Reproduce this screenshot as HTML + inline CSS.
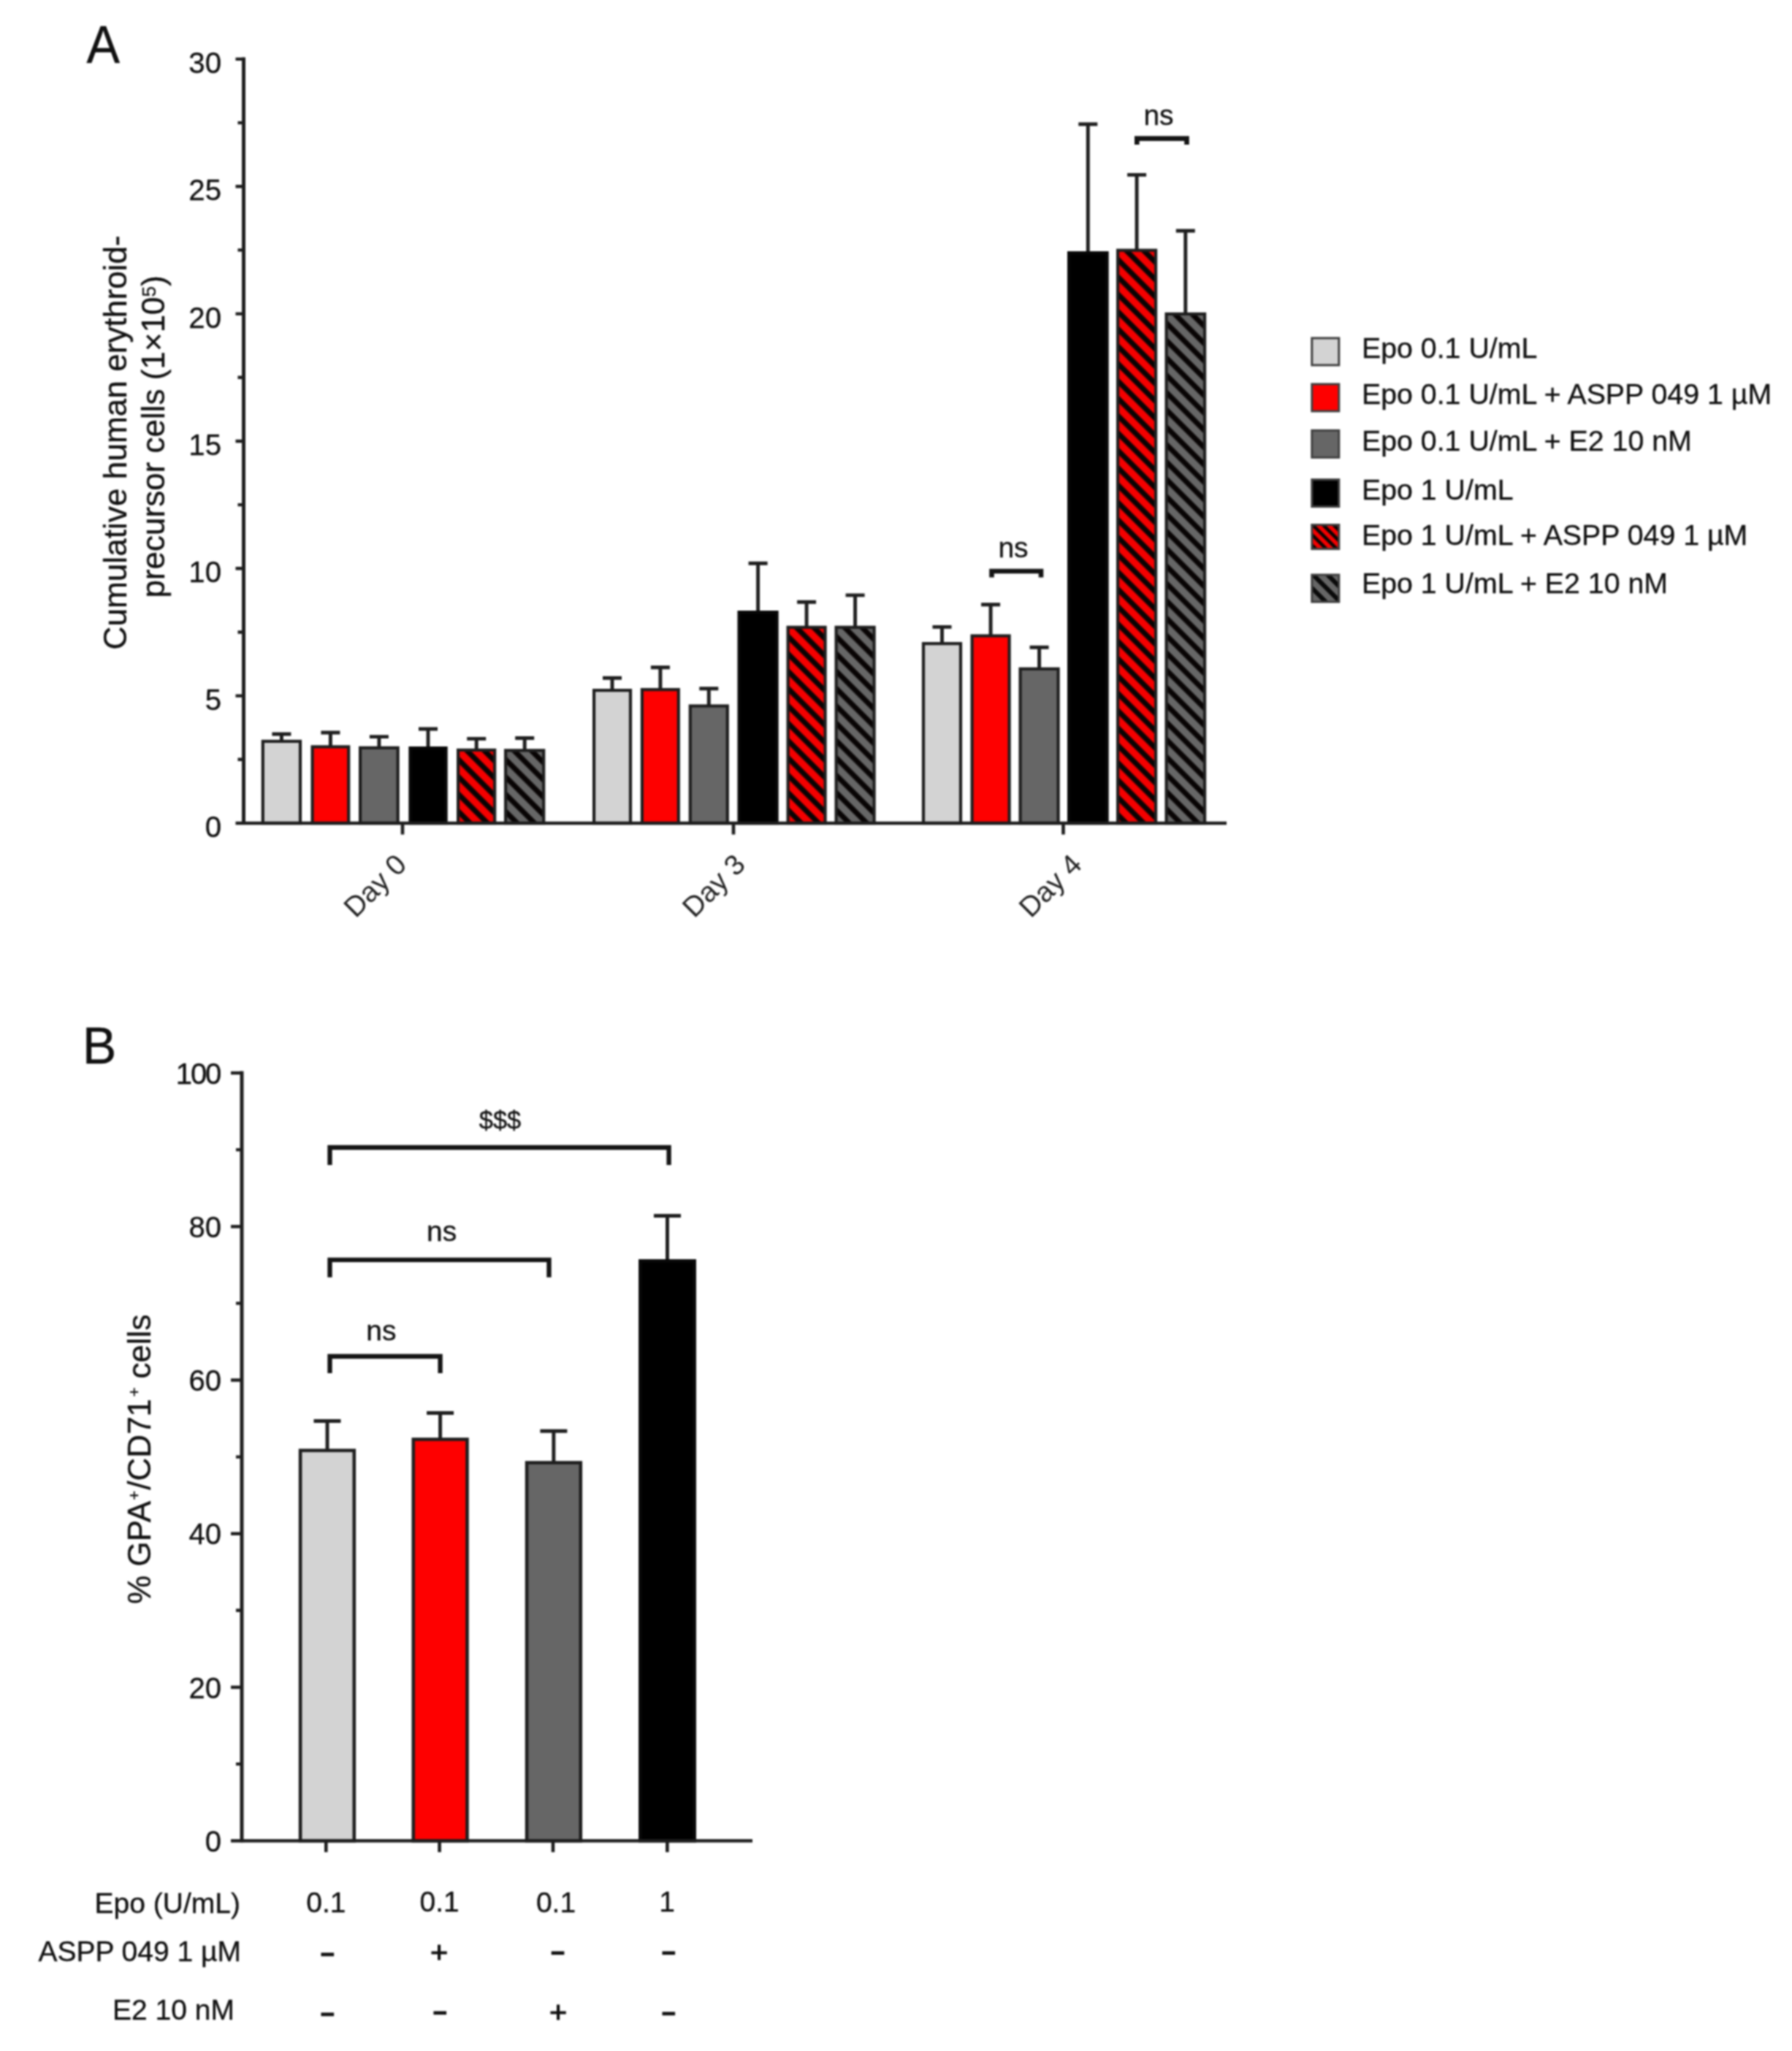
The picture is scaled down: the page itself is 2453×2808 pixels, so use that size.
<!DOCTYPE html>
<html lang="en"><head><meta charset="utf-8"><title>Figure</title>
<style>
html,body{margin:0;padding:0;background:#fff}
body{width:2453px;height:2808px;overflow:hidden}
svg{display:block;filter:blur(1px)}
text{font-family:"Liberation Sans", Arial, sans-serif;fill:#101010;stroke:#101010;stroke-width:0.35px}
</style></head><body>
<svg width="2453" height="2808" viewBox="0 0 2453 2808">
<defs>
<pattern id="hr" patternUnits="userSpaceOnUse" width="16.8" height="16.8" patternTransform="rotate(45)">
<rect width="16.8" height="16.8" fill="#f40000"/><rect x="0" y="0" width="16.8" height="7.4" fill="#0a0000"/>
</pattern>
<pattern id="hg" patternUnits="userSpaceOnUse" width="16.8" height="16.8" patternTransform="rotate(45)">
<rect width="16.8" height="16.8" fill="#666"/><rect x="0" y="0" width="16.8" height="7.4" fill="#0a0a0a"/>
</pattern>
</defs>
<rect width="2453" height="2808" fill="#fff"/>

<g id="panelA">
<path d="M385.4 1014.8V1005.0M372.4 1005.0H398.4" stroke="#1e1e1e" stroke-width="4.9" fill="none"/>
<rect x="359.8" y="1014.9" width="51.2" height="112.1" fill="#d3d3d3" stroke="#1e1e1e" stroke-width="4.2"/>
<path d="M452.4 1022.3V1003.0M439.4 1003.0H465.4" stroke="#1e1e1e" stroke-width="4.9" fill="none"/>
<rect x="427.6" y="1022.4" width="49.6" height="104.6" fill="#fe0000" stroke="#1e1e1e" stroke-width="4.2"/>
<path d="M518.9 1023.7V1008.6M505.9 1008.6H531.9" stroke="#1e1e1e" stroke-width="4.9" fill="none"/>
<rect x="493.1" y="1023.8" width="51.5" height="103.2" fill="#666666" stroke="#1e1e1e" stroke-width="4.2"/>
<path d="M586.0 1024.0V998.0M573.0 998.0H599.0" stroke="#1e1e1e" stroke-width="4.9" fill="none"/>
<rect x="561.5" y="1024.1" width="49.1" height="102.9" fill="#000000" stroke="#080808" stroke-width="4.2"/>
<pattern id="p4" patternUnits="userSpaceOnUse" width="16.8" height="16.8" patternTransform="translate(625.0,1024.8) rotate(45)"><rect width="16.8" height="16.8" fill="#f40000"/><rect y="5.2" width="16.8" height="7.2" fill="#080404"/></pattern>
<path d="M652.2 1026.8V1011.4M639.2 1011.4H665.2" stroke="#1e1e1e" stroke-width="4.9" fill="none"/>
<rect x="627.1" y="1026.9" width="50.1" height="100.1" fill="url(#p4)" stroke="#1e1e1e" stroke-width="4.2"/>
<pattern id="p5" patternUnits="userSpaceOnUse" width="16.8" height="16.8" patternTransform="translate(690.0,1025.3) rotate(45)"><rect width="16.8" height="16.8" fill="#666"/><rect y="5.2" width="16.8" height="7.2" fill="#080404"/></pattern>
<path d="M718.2 1027.3V1010.5M705.2 1010.5H731.2" stroke="#1e1e1e" stroke-width="4.9" fill="none"/>
<rect x="692.1" y="1027.4" width="52.1" height="99.6" fill="url(#p5)" stroke="#1e1e1e" stroke-width="4.2"/>
<path d="M838.0 945.0V928.2M825.0 928.2H851.0" stroke="#1e1e1e" stroke-width="4.9" fill="none"/>
<rect x="813.1" y="945.1" width="49.9" height="181.9" fill="#d3d3d3" stroke="#1e1e1e" stroke-width="4.2"/>
<path d="M903.9 944.0V913.7M890.9 913.7H916.9" stroke="#1e1e1e" stroke-width="4.9" fill="none"/>
<rect x="878.9" y="944.1" width="49.9" height="182.9" fill="#fe0000" stroke="#1e1e1e" stroke-width="4.2"/>
<path d="M970.3 966.4V942.7M957.3 942.7H983.3" stroke="#1e1e1e" stroke-width="4.9" fill="none"/>
<rect x="944.8" y="966.5" width="51.0" height="160.5" fill="#666666" stroke="#1e1e1e" stroke-width="4.2"/>
<path d="M1037.6 838.0V771.2M1024.6 771.2H1050.6" stroke="#1e1e1e" stroke-width="4.9" fill="none"/>
<rect x="1011.6" y="838.1" width="52.0" height="288.9" fill="#000000" stroke="#080808" stroke-width="4.2"/>
<pattern id="p10" patternUnits="userSpaceOnUse" width="16.8" height="16.8" patternTransform="translate(1076.5,856.7) rotate(45)"><rect width="16.8" height="16.8" fill="#f40000"/><rect y="5.2" width="16.8" height="7.2" fill="#080404"/></pattern>
<path d="M1104.1 858.7V824.2M1091.1 824.2H1117.1" stroke="#1e1e1e" stroke-width="4.9" fill="none"/>
<rect x="1078.6" y="858.8" width="51.0" height="268.2" fill="url(#p10)" stroke="#1e1e1e" stroke-width="4.2"/>
<pattern id="p11" patternUnits="userSpaceOnUse" width="16.8" height="16.8" patternTransform="translate(1142.5,856.7) rotate(45)"><rect width="16.8" height="16.8" fill="#666"/><rect y="5.2" width="16.8" height="7.2" fill="#080404"/></pattern>
<path d="M1170.6 858.7V814.9M1157.6 814.9H1183.6" stroke="#1e1e1e" stroke-width="4.9" fill="none"/>
<rect x="1144.6" y="858.8" width="52.0" height="268.2" fill="url(#p11)" stroke="#1e1e1e" stroke-width="4.2"/>
<path d="M1289.5 881.0V858.4M1276.5 858.4H1302.5" stroke="#1e1e1e" stroke-width="4.9" fill="none"/>
<rect x="1264.0" y="881.1" width="51.0" height="245.9" fill="#d3d3d3" stroke="#1e1e1e" stroke-width="4.2"/>
<path d="M1356.1 870.4V827.7M1343.1 827.7H1369.1" stroke="#1e1e1e" stroke-width="4.9" fill="none"/>
<rect x="1330.6" y="870.5" width="51.0" height="256.5" fill="#fe0000" stroke="#1e1e1e" stroke-width="4.2"/>
<path d="M1422.6 915.6V886.3M1409.6 886.3H1435.6" stroke="#1e1e1e" stroke-width="4.9" fill="none"/>
<rect x="1396.6" y="915.7" width="52.0" height="211.3" fill="#666666" stroke="#1e1e1e" stroke-width="4.2"/>
<path d="M1489.3 346.0V170.0M1476.3 170.0H1502.3" stroke="#1e1e1e" stroke-width="4.9" fill="none"/>
<rect x="1463.1" y="346.1" width="52.5" height="780.9" fill="#000000" stroke="#080808" stroke-width="4.2"/>
<pattern id="p16" patternUnits="userSpaceOnUse" width="16.8" height="16.8" patternTransform="translate(1528.0,340.6) rotate(45)"><rect width="16.8" height="16.8" fill="#f40000"/><rect y="5.2" width="16.8" height="7.2" fill="#080404"/></pattern>
<path d="M1556.1 342.6V239.4M1543.1 239.4H1569.1" stroke="#1e1e1e" stroke-width="4.9" fill="none"/>
<rect x="1530.1" y="342.7" width="52.0" height="784.3" fill="url(#p16)" stroke="#1e1e1e" stroke-width="4.2"/>
<pattern id="p17" patternUnits="userSpaceOnUse" width="16.8" height="16.8" patternTransform="translate(1594.5,427.7) rotate(45)"><rect width="16.8" height="16.8" fill="#666"/><rect y="5.2" width="16.8" height="7.2" fill="#080404"/></pattern>
<path d="M1622.8 429.7V316.0M1609.8 316.0H1635.8" stroke="#1e1e1e" stroke-width="4.9" fill="none"/>
<rect x="1596.6" y="429.8" width="52.5" height="697.2" fill="url(#p17)" stroke="#1e1e1e" stroke-width="4.2"/>
<path d="M333.5 78.4V1129.0" stroke="#1e1e1e" stroke-width="5" fill="none"/>
<path d="M322.5 1127.0H1679" stroke="#1e1e1e" stroke-width="4.4" fill="none"/>
<path d="M325.5 1039.8H333.5M322.5 952.6H333.5M325.5 865.5H333.5M322.5 778.3H333.5M325.5 691.1H333.5M322.5 604.0H333.5M325.5 516.8H333.5M322.5 429.6H333.5M325.5 342.4H333.5M322.5 255.3H333.5M325.5 168.1H333.5M322.5 80.9H333.5" stroke="#1e1e1e" stroke-width="4.4" fill="none"/>
<path d="M551 1127.0V1142.5M1004 1127.0V1142.5M1455.5 1127.0V1142.5" stroke="#1e1e1e" stroke-width="4.6" fill="none"/>
<text x="303" y="1146.0" font-size="40.2" text-anchor="end">0</text>
<text x="303" y="971.6" font-size="40.2" text-anchor="end">5</text>
<text x="303" y="797.3" font-size="40.2" text-anchor="end">10</text>
<text x="303" y="623.0" font-size="40.2" text-anchor="end">15</text>
<text x="303" y="448.6" font-size="40.2" text-anchor="end">20</text>
<text x="303" y="274.3" font-size="40.2" text-anchor="end">25</text>
<text x="303" y="99.9" font-size="40.2" text-anchor="end">30</text>
<text transform="translate(558.7,1186.0) rotate(-45)" font-size="39" text-anchor="end" style="fill:#222;stroke:none">Day 0</text>
<text transform="translate(1022.3,1186.0) rotate(-45)" font-size="39" text-anchor="end" style="fill:#222;stroke:none">Day 3</text>
<text transform="translate(1483,1186.0) rotate(-45)" font-size="39" text-anchor="end" style="fill:#222;stroke:none">Day 4</text>
<text transform="translate(173.4,889.5) rotate(-90)" font-size="44.2">Cumulative human erythroid-</text>
<text transform="translate(225.2,818.5) rotate(-90)" font-size="44">precursor cells (1×10<tspan font-size="26.4" dy="-12.6">5</tspan><tspan dy="12.6">)</tspan></text>
<path d="M1357.5 790.4V782H1425V790.4" stroke="#141414" stroke-width="6.6" fill="none" stroke-linejoin="miter"/>
<text x="1387" y="763" font-size="39" text-anchor="middle">ns</text>
<path d="M1556.3 198.0V189.6H1624.5V198.0" stroke="#141414" stroke-width="6.6" fill="none" stroke-linejoin="miter"/>
<text x="1586" y="170.5" font-size="39" text-anchor="middle">ns</text>
<text transform="translate(118.6,86.3) scale(0.955,1)" font-size="71.5">A</text>
<pattern id="lr" patternUnits="userSpaceOnUse" width="10.1" height="10.1" patternTransform="translate(1794,717) rotate(45) translate(0,-3.15)"><rect width="10.1" height="10.1" fill="#f40000"/><rect y="-0.4" width="10.1" height="5.0" fill="#0c0303"/></pattern>
<pattern id="lg" patternUnits="userSpaceOnUse" width="14" height="14" patternTransform="translate(1794,785.3) rotate(45) translate(0,-4.35)"><rect width="14" height="14" fill="#666"/><rect y="-0.5" width="14" height="6.6" fill="#0a0a0a"/></pattern>
<rect x="1795.8" y="462.9" width="37" height="37" fill="#d3d3d3" stroke="#404040" stroke-width="3"/>
<text x="1864" y="490.3" font-size="39.3">Epo 0.1 U/mL</text>
<rect x="1795.8" y="525.9" width="37" height="37" fill="#fe0000" stroke="#404040" stroke-width="3"/>
<text x="1864" y="553.3" font-size="39.3">Epo 0.1 U/mL + ASPP 049 1 µM</text>
<rect x="1795.8" y="589.3" width="37" height="37" fill="#666666" stroke="#404040" stroke-width="3"/>
<text x="1864" y="616.7" font-size="39.3">Epo 0.1 U/mL + E2 10 nM</text>
<rect x="1795.8" y="656.6" width="37" height="37" fill="#000000" stroke="#404040" stroke-width="3"/>
<text x="1864" y="683.6" font-size="39.3">Epo 1 U/mL</text>
<rect x="1795.8" y="718.5" width="37" height="33" fill="url(#lr)" stroke="#404040" stroke-width="3"/>
<text x="1864" y="745.5" font-size="39.3">Epo 1 U/mL + ASPP 049 1 µM</text>
<rect x="1795.8" y="787.0" width="37" height="37" fill="url(#lg)" stroke="#404040" stroke-width="3"/>
<text x="1864" y="812.0" font-size="39.3">Epo 1 U/mL + E2 10 nM</text>
</g>
<g id="panelB">
<path d="M448.0 1985.5V1945.5M429.5 1945.5H466.5" stroke="#1e1e1e" stroke-width="4.9" fill="none"/>
<rect x="411.1" y="1985.8" width="73.7" height="534.4" fill="#d3d3d3" stroke="#1e1e1e" stroke-width="4.6"/>
<path d="M602.6 1970.3V1934.5M584.1 1934.5H621.1" stroke="#1e1e1e" stroke-width="4.9" fill="none"/>
<rect x="565.8" y="1970.6" width="73.7" height="549.6" fill="#fe0000" stroke="#1e1e1e" stroke-width="4.6"/>
<path d="M757.9 2002.2V1959.2M739.4 1959.2H776.4" stroke="#1e1e1e" stroke-width="4.9" fill="none"/>
<rect x="721.1" y="2002.5" width="73.7" height="517.7" fill="#666666" stroke="#1e1e1e" stroke-width="4.6"/>
<path d="M913.5 1726.0V1664.5M895.0 1664.5H932.0" stroke="#1e1e1e" stroke-width="4.9" fill="none"/>
<rect x="876.4" y="1726.3" width="74.3" height="793.9" fill="#000000" stroke="#080808" stroke-width="4.6"/>
<path d="M331.0 1466.5V2522.2" stroke="#1e1e1e" stroke-width="5" fill="none"/>
<path d="M316.0 2520.2H1030" stroke="#1e1e1e" stroke-width="4.4" fill="none"/>
<path d="M323.0 2415.1H331.0M316.0 2310.0H331.0M323.0 2204.8H331.0M316.0 2099.7H331.0M323.0 1994.6H331.0M316.0 1889.5H331.0M323.0 1784.4H331.0M316.0 1679.2H331.0M323.0 1574.1H331.0M316.0 1469.0H331.0" stroke="#1e1e1e" stroke-width="4.4" fill="none"/>
<path d="M446.3 2520.2V2535.7M601.6 2520.2V2535.7M757 2520.2V2535.7M913.4 2520.2V2535.7" stroke="#1e1e1e" stroke-width="4.6" fill="none"/>
<text x="303" y="2534.9" font-size="40" text-anchor="end">0</text>
<text x="303" y="2324.7" font-size="40" text-anchor="end">20</text>
<text x="303" y="2114.4" font-size="40" text-anchor="end">40</text>
<text x="303" y="1904.2" font-size="40" text-anchor="end">60</text>
<text x="303" y="1693.9" font-size="40" text-anchor="end">80</text>
<text x="301" y="1483.7" font-size="40" text-anchor="end" letter-spacing="-2.2">100</text>
<text transform="translate(205.5,2196) rotate(-90)" font-size="44">% GPA<tspan font-size="22" dy="-14.5" dx="1.2">+</tspan><tspan dy="14.5" dx="1.3">/CD71</tspan><tspan font-size="22" dy="-14.5" dx="2.6">+</tspan><tspan dy="14.5" dx="-0.2"> cells</tspan></text>
<path d="M451.5 1595V1571H915.6V1595" stroke="#141414" stroke-width="6.3" fill="none" stroke-linejoin="miter"/>
<text x="684.5" y="1546" font-size="34.5" text-anchor="middle">$$$</text>
<path d="M451.5 1748.8V1724.8H751.5V1748.8" stroke="#141414" stroke-width="6.3" fill="none" stroke-linejoin="miter"/>
<text x="604.7" y="1699" font-size="39" text-anchor="middle">ns</text>
<path d="M451.5 1880V1857H602.6V1880" stroke="#141414" stroke-width="6.3" fill="none" stroke-linejoin="miter"/>
<text x="521.8" y="1835" font-size="39" text-anchor="middle">ns</text>
<text x="112.8" y="1456.3" font-size="70">B</text>
<text x="329" y="2619" font-size="39" text-anchor="end">Epo (U/mL)</text>
<text x="330" y="2685" font-size="39" text-anchor="end">ASPP 049 1 µM</text>
<text x="321" y="2765" font-size="39" text-anchor="end">E2 10 nM</text>
<text x="446.3" y="2618.3" font-size="39" text-anchor="middle">0.1</text>
<text x="601.6" y="2616.7" font-size="39" text-anchor="middle">0.1</text>
<text x="761" y="2617.8" font-size="39" text-anchor="middle">0.1</text>
<text x="913" y="2617" font-size="39" text-anchor="middle">1</text>
<text x="448" y="2686.0" font-size="31" text-anchor="middle" style="stroke-width:2.6px">−</text>
<text x="601" y="2686.5" font-size="41.5" text-anchor="middle" style="stroke-width:1.2px">+</text>
<text x="763.3" y="2683.9" font-size="31" text-anchor="middle" style="stroke-width:2.6px">−</text>
<text x="915" y="2683.9" font-size="31" text-anchor="middle" style="stroke-width:2.6px">−</text>
<text x="448" y="2768.3" font-size="31" text-anchor="middle" style="stroke-width:2.6px">−</text>
<text x="602" y="2766.3" font-size="31" text-anchor="middle" style="stroke-width:2.6px">−</text>
<text x="764" y="2769.3" font-size="41.5" text-anchor="middle" style="stroke-width:1.2px">+</text>
<text x="915" y="2766.5" font-size="31" text-anchor="middle" style="stroke-width:2.6px">−</text>
</g>
</svg></body></html>
